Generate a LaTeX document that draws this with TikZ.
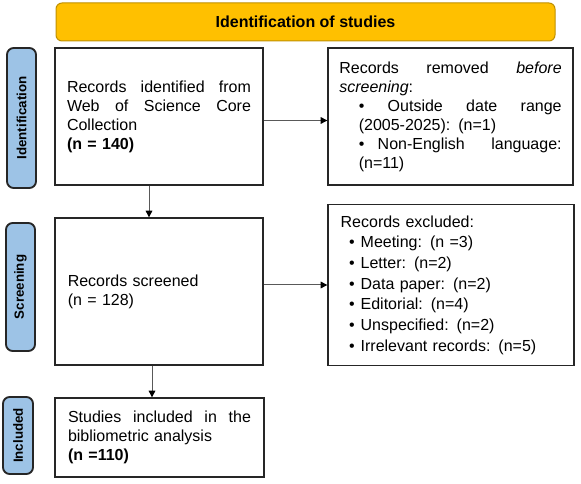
\documentclass[tikz,border=0pt]{standalone}
\usepackage{fontspec}
\setmainfont{Liberation Sans}
\usepackage{tikz}
\usetikzlibrary{arrows.meta, positioning, calc}

\definecolor{bannergold}{HTML}{FFC000}
\definecolor{bannerline}{HTML}{C09000}
\definecolor{phaseblue}{HTML}{9DC3E6}

\begin{document}
\begin{tikzpicture}[
  x=0.75pt, y=-0.75pt,
  arrow/.style={-{Triangle[length=5pt, width=5pt, color=black]}, draw=black!65, line width=0.75pt},
  banner/.style={draw=bannerline, fill=bannergold, rounded corners=4.5pt, line width=0.75pt, font=\bfseries\fontsize{12}{14}\selectfont},
  phase/.style={draw=black!85, fill=phaseblue, rounded corners=5pt, line width=1.4pt, rotate=90, inner sep=0pt, font=\bfseries\fontsize{10}{12}\selectfont},
  flowbox/.style={draw=black!85, line width=1pt, align=left, inner ysep=0pt, font=\fontsize{12}{14.25}\selectfont}
]
  \useasboundingbox (0,0) rectangle (581,484);

  % Title
  \node (title) [banner, minimum width=374.25pt, minimum height=28.5pt] at (305.5,22) {Identification of studies};

  % Phase labels
  \node (labident) [phase, minimum width=105pt, minimum height=21.75pt] at (21.5,118) {Identification};
  \node (labscreen) [phase, minimum width=96pt, minimum height=21.75pt] at (20.5,287) {Screening};
  \node (labincl) [phase, minimum width=57.75pt, minimum height=22.5pt] at (18,435.5) {Included};

  % Identification
  \node (ident) [flowbox, minimum width=156pt, minimum height=102.75pt, text width=138pt, inner xsep=9pt] at (159,116.5)
    {Records\hfill identified\hfill from\\ Web\hfill of\hfill Science\hfill Core\\ Collection\\ \textbf{(n = 140)}};
  \node (removed) [flowbox, minimum width=183.75pt, minimum height=102.75pt, text width=166.75pt, inner xsep=8.5pt] at (450.5,116.5)
    {Records\hfill removed\hfill \textit{before}\\
     \textit{screening}:\\
     \hspace*{14.6pt}\textbullet\hfill Outside\hfill date\hfill range\\
     \hspace*{14.6pt}(2005-2025): (n=1)\\
     \hspace*{14.6pt}\textbullet\hspace{10pt}Non-English\hfill language:\\
     \hspace*{14.6pt}(n=11)};

  % Screening
  \node (screen) [flowbox, minimum width=156pt, minimum height=110.25pt, text width=136.8pt, inner xsep=9.6pt] at (159,291.5)
    {Records screened\\ (n = 128)};
  \node (excluded) [flowbox, minimum width=184.5pt, minimum height=120.75pt, text width=165.5pt, inner xsep=9.5pt, font=\fontsize{12}{15.5}\selectfont] at (451,285)
    {Records excluded:\\
     \hspace*{6.3pt}\textbullet\hspace{4.5pt}Meeting: (n =3)\\
     \hspace*{6.3pt}\textbullet\hspace{4.5pt}Letter: (n=2)\\
     \hspace*{6.3pt}\textbullet\hspace{4.5pt}Data paper: (n=2)\\
     \hspace*{6.3pt}\textbullet\hspace{4.5pt}Editorial: (n=4)\\
     \hspace*{6.3pt}\textbullet\hspace{4.5pt}Unspecified: (n=2)\\
     \hspace*{6.3pt}\textbullet\hspace{4.5pt}Irrelevant records: (n=5)};

  % Included
  \node (included) [flowbox, minimum width=156.75pt, minimum height=59.25pt, text width=137.25pt, inner xsep=9.75pt] at (159.5,437.5)
    {Studies\hfill included\hfill in\hfill the\\ bibliometric analysis\\ \textbf{(n =110)}};

  % Connections
  \draw[arrow] ([yshift=-3pt]ident.east) -- ([yshift=-3pt]removed.west);
  \draw[arrow] ([xshift=-7.5pt]ident.south) -- ([xshift=-7.5pt]ident.south |- screen.north);
  \draw[arrow] (screen.east |- excluded.west) -- (excluded.west);
  \draw[arrow] ([xshift=-5.25pt]screen.south) -- ([xshift=-5.25pt]screen.south |- included.north);

\end{tikzpicture}
\end{document}
